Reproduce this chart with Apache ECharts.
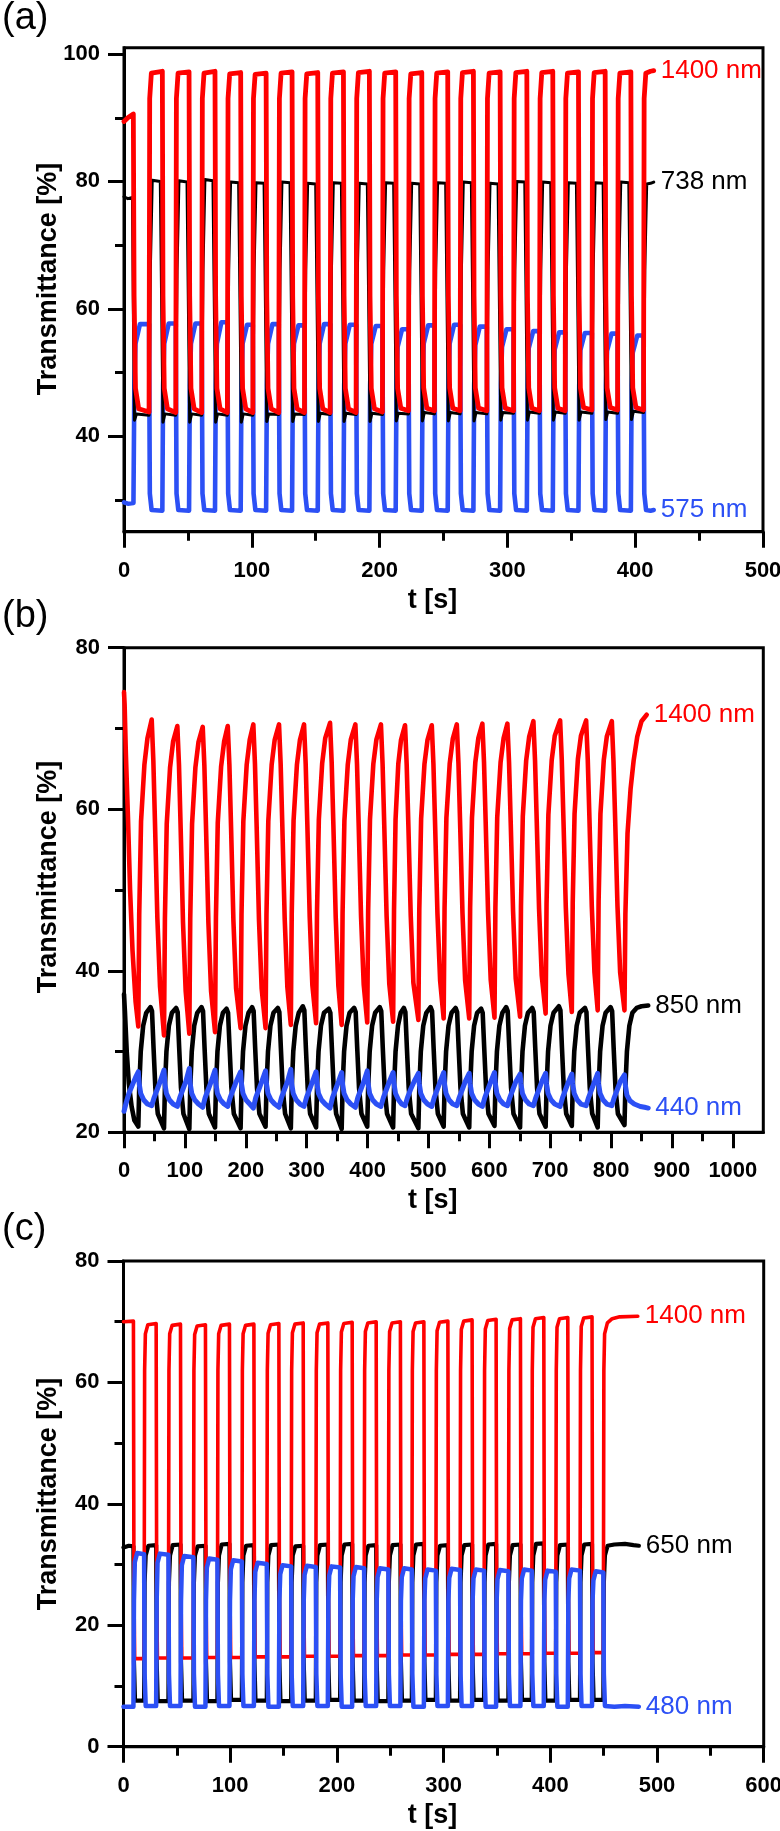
<!DOCTYPE html>
<html><head><meta charset="utf-8">
<script src="https://cdn.jsdelivr.net/npm/echarts@6/dist/echarts.min.js"></script>
<style>html,body{margin:0;padding:0;background:#fff}#c{width:780px;height:1831px}</style>
</head><body><div id="c"></div>
<script>
// ---------- tick labels ----------
const aXMajor = [0,100,200,300,400,500], aXMinor = [50,150,250,350,450];
const aYMajor = [40,60,80,100], aYMinor = [30,50,70,90];
const bXMajor = [0,100,200,300,400,500,600,700,800,900,1000], bXMinor = [50,150,250,350,450,550,650,750,850,950];
const bYMajor = [20,40,60,80], bYMinor = [30,50,70];
const cXMajor = [0,100,200,300,400,500,600], cXMinor = [50,150,250,350,450,550];
const cYMajor = [0,20,40,60,80], cYMinor = [10,30,50,70];
const panelTags = ['(a)','(b)','(c)'];
const aNames = ['1400 nm','738 nm','575 nm'];
const bNames = ['1400 nm','850 nm','440 nm'];
const cNames = ['1400 nm','650 nm','480 nm'];
const yTitle = 'Transmittance [%]', xTitle = 't [s]';

// ---------- panel (a) : [t (s), T (%)] ----------
const a1400 = [[0,89.4],[3,90.0],[7.3,90.6],[7.9,62],[9.0,47.5],[11.5,44.3],
[19.6,43.8],[20.1,93],[21.4,97.0],[30.0,97.3],[30.5,62],[31.5,47.5],[34.0,44.3],
[40.5,43.7],[41.0,93],[42.3,97.0],[50.9,97.2],[51.4,62],[52.4,47.5],[54.9,44.3],
[60.8,43.7],[61.3,93],[62.6,97.0],[71.2,97.3],[71.7,62],[72.7,47.5],[75.2,44.3],
[80.9,43.7],[81.4,93],[82.7,96.9],[91.3,97.1],[91.8,62],[92.8,47.5],[95.3,44.3],
[100.8,43.7],[101.3,93],[102.6,96.8],[111.2,97.0],[111.7,62],[112.7,47.5],[115.2,44.3],
[121.1,43.7],[121.6,93],[122.9,97.0],[131.5,97.2],[132.0,62],[133.0,47.5],[135.5,44.3],
[141.2,43.7],[141.7,93],[143.0,96.9],[151.6,97.1],[152.1,62],[153.1,47.5],[155.6,44.3],
[161.3,43.7],[161.8,93],[163.1,97.0],[171.7,97.2],[172.2,62],[173.2,47.5],[175.7,44.3],
[181.6,43.7],[182.1,93],[183.4,97.1],[192.0,97.3],[192.5,62],[193.5,47.5],[196.0,44.3],
[202.2,43.8],[202.7,93],[204.0,97.0],[212.6,97.2],[213.1,62],[214.1,47.5],[216.6,44.4],
[222.6,44.0],[223.1,93],[224.4,96.9],[233.0,97.1],[233.5,62],[234.5,47.6],[237.0,44.4],
[242.9,44.0],[243.4,93],[244.7,97.0],[253.3,97.2],[253.8,62],[254.8,47.6],[257.3,44.4],
[263.0,44.0],[263.5,93],[264.8,97.1],[273.4,97.3],[273.9,62],[274.9,47.6],[277.4,44.4],
[283.9,44.0],[284.4,93],[285.7,97.0],[294.3,97.2],[294.8,62],[295.8,47.6],[298.3,44.4],
[304.8,44.0],[305.3,93],[306.6,97.1],[315.2,97.3],[315.7,62],[316.7,47.6],[319.2,44.4],
[325.1,44.0],[325.6,93],[326.9,97.1],[335.5,97.3],[336.0,62],[337.0,47.6],[339.5,44.4],
[345.2,44.0],[345.7,93],[347.0,97.0],[355.6,97.2],[356.1,62],[357.1,47.6],[359.6,44.5],
[366.1,44.1],[366.6,93],[367.9,97.1],[376.5,97.3],[377.0,62],[378.0,47.6],[380.5,44.5],
[386.2,44.1],[386.7,93],[388.0,97.0],[396.6,97.2],[397.1,62],[398.1,47.6],[400.6,44.5],
[406.5,44.1],[407.0,93],[408.3,97.0],[412.0,97.3],[414.5,97.4]];

const a738 = [[0,77.6],[3,77.3],[6.6,77.5],[7.4,58],[8.2,42.5],[9.8,43.5],
[19.6,43.3],[20.6,66],[22.1,80.2],[28.4,80.0],[29.5,60],[30.5,42.2],[32.0,43.5],
[40.5,43.3],[41.5,66],[43.0,80.1],[49.3,79.9],[50.4,60],[51.4,42.2],[52.9,43.5],
[60.8,43.3],[61.8,66],[63.3,80.3],[69.6,80.1],[70.7,60],[71.7,42.2],[73.2,43.5],
[80.9,43.3],[81.9,66],[83.4,79.9],[89.7,79.8],[90.8,60],[91.8,42.2],[93.3,43.5],
[100.8,43.3],[101.8,66],[103.3,79.8],[109.6,79.7],[110.7,60],[111.7,42.3],[113.2,43.5],
[121.1,43.4],[122.1,66],[123.6,79.9],[129.9,79.8],[131.0,60],[132.0,42.3],[133.5,43.5],
[141.2,43.4],[142.2,66],[143.7,79.7],[150.0,79.6],[151.1,60],[152.1,42.3],[153.6,43.6],
[161.3,43.4],[162.3,66],[163.8,79.8],[170.1,79.7],[171.2,60],[172.2,42.3],[173.7,43.6],
[181.6,43.4],[182.6,66],[184.1,79.7],[190.4,79.6],[191.5,60],[192.5,42.3],[194.0,43.6],
[202.2,43.4],[203.2,66],[204.7,79.8],[211.0,79.7],[212.1,60],[213.1,42.4],[214.6,43.6],
[222.6,43.5],[223.6,66],[225.1,79.7],[231.4,79.6],[232.5,60],[233.5,42.4],[235.0,43.7],
[242.9,43.5],[243.9,66],[245.4,79.8],[251.7,79.7],[252.8,60],[253.8,42.4],[255.3,43.7],
[263.0,43.5],[264.0,66],[265.5,79.9],[271.8,79.8],[272.9,60],[273.9,42.4],[275.4,43.7],
[283.9,43.5],[284.9,66],[286.4,79.7],[292.7,79.6],[293.8,60],[294.8,42.5],[296.3,43.7],
[304.8,43.6],[305.8,66],[307.3,80.0],[313.6,79.9],[314.7,60],[315.7,42.5],[317.2,43.8],
[325.1,43.6],[326.1,66],[327.6,79.9],[333.9,79.8],[335.0,60],[336.0,42.5],[337.5,43.8],
[345.2,43.6],[346.2,66],[347.7,79.8],[354.0,79.7],[355.1,60],[356.1,42.5],[357.6,43.8],
[366.1,43.6],[367.1,66],[368.6,79.8],[374.9,79.7],[376.0,60],[377.0,42.6],[378.5,43.8],
[386.2,43.6],[387.2,66],[388.7,79.9],[395.0,79.8],[396.1,60],[397.1,42.6],[398.6,43.9],
[406.5,43.7],[407.5,66],[409.0,79.6],[412.0,79.7],[414.5,79.9]];

const a575 = [[0,29.6],[3,29.4],[7.4,29.5],
[8.1,48],[9.0,54.5],[12.5,57.6],[19.6,57.6],[20.2,31],[21.6,28.4],
[30.0,28.3],[30.6,48],[31.5,54.5],[35.0,57.7],[40.5,57.7],[41.1,31],[42.5,28.4],
[50.9,28.3],[51.5,48],[52.4,54.5],[55.9,57.7],[60.8,57.7],[61.4,31],[62.8,28.4],
[71.2,28.3],[71.8,48],[72.7,54.5],[76.2,57.9],[80.9,57.9],[81.5,31],[82.9,28.4],
[91.3,28.3],[91.9,48],[92.8,54.5],[96.3,57.5],[100.8,57.5],[101.4,31],[102.8,28.4],
[111.2,28.3],[111.8,48],[112.7,54.5],[116.2,57.6],[121.1,57.6],[121.7,31],[123.1,28.4],
[131.5,28.3],[132.1,48],[133.0,54.5],[136.5,57.4],[141.2,57.4],[141.8,31],[143.2,28.4],
[151.6,28.3],[152.2,48],[153.1,54.5],[156.6,57.6],[161.3,57.6],[161.9,31],[163.3,28.4],
[171.7,28.3],[172.3,48],[173.2,54.5],[176.7,57.5],[181.6,57.5],[182.2,31],[183.6,28.4],
[192.0,28.3],[192.6,48],[193.5,54.5],[197.0,57.3],[202.2,57.3],[202.8,31],[204.2,28.4],
[212.6,28.3],[213.2,48],[214.1,54],[217.6,56.8],[222.6,56.8],[223.2,31],[224.6,28.4],
[233.0,28.3],[233.6,48],[234.5,54.5],[238.0,57.4],[242.9,57.4],[243.5,31],[244.9,28.4],
[253.3,28.3],[253.9,48],[254.8,54.5],[258.3,57.5],[263.0,57.5],[263.6,31],[265.0,28.4],
[273.4,28.3],[274.0,48],[274.9,54.3],[278.4,57.2],[283.9,57.2],[284.5,31],[285.9,28.4],
[294.3,28.3],[294.9,48],[295.8,54],[299.3,56.8],[304.8,56.8],[305.4,31],[306.8,28.4],
[315.2,28.3],[315.8,48],[316.7,53.8],[320.2,56.5],[325.1,56.5],[325.7,31],[327.1,28.4],
[335.5,28.3],[336.1,48],[337.0,53.6],[340.5,56.3],[345.2,56.3],[345.8,31],[347.2,28.4],
[355.6,28.3],[356.2,48],[357.1,53.5],[360.6,56.2],[366.1,56.2],[366.7,31],[368.1,28.4],
[376.5,28.3],[377.1,48],[378.0,53.4],[381.5,56.1],[386.2,56.1],[386.8,31],[388.2,28.4],
[396.6,28.3],[397.2,48],[398.1,53.1],[401.6,55.8],[406.5,55.8],[407.1,31],[408.5,28.4],
[412.0,28.3],[414.5,28.4]];

// ---------- panel (b) ----------
const b1400 = [[0,74.5],[1,73],[3,67],[6.5,59],[10,50],[14,42.5],[19,36.2],[23.5,33.1],
[25.0,47],[28.0,58.5],[33.5,65.5],[38.5,68.8],[45.5,71.1],[48.2,66],[51.0,58],[54.8,46.5],[59.2,38],[65.7,32.0],
[67.2,46.5],[70.2,58.2],[75.7,65.2],[80.7,68.4],[87.6,70.3],[90.3,65.5],[93.1,57.5],[96.9,46],[101.3,37.5],[107.3,32.2],
[108.8,46.5],[111.8,58.2],[117.3,65.2],[122.3,68.3],[129.3,70.2],[132.0,65.4],[134.8,57.5],[138.6,46],[143.0,37.5],[149.5,32.4],
[151.0,46.7],[154.0,58.3],[159.5,65.3],[164.5,68.4],[170.4,70.3],[173.1,65.5],[175.9,57.6],[179.7,46.2],[184.1,37.8],[191.5,32.9],
[193.0,47],[196.0,58.5],[201.5,65.5],[206.5,68.6],[212.4,70.5],[215.1,65.6],[217.9,57.8],[221.7,46.3],[226.1,37.8],[232.5,32.9],
[234.0,47],[237.0,58.5],[242.5,65.5],[247.5,68.6],[254.6,70.5],[257.3,65.6],[260.1,57.8],[263.9,46.5],[268.3,38],[274.0,33.3],
[275.5,47.2],[278.5,58.6],[284.0,65.5],[289.0,68.6],[295.7,70.5],[298.4,65.6],[301.2,57.9],[305.0,46.7],[309.4,38.2],[315.5,33.5],
[317.0,47.3],[320.0,58.7],[325.5,65.7],[330.5,68.8],[338.4,70.7],[341.1,65.8],[343.9,58],[347.7,46.7],[352.1,38.1],[357.5,33.3],
[359.0,47.2],[362.0,58.6],[367.5,65.5],[372.5,68.6],[380.0,70.5],[382.7,65.6],[385.5,57.9],[389.3,46.8],[393.7,38.3],[399.5,33.6],
[401.0,47.4],[404.0,58.7],[409.5,65.6],[414.5,68.6],[422.0,70.5],[424.7,65.6],[427.5,57.9],[431.3,46.8],[435.7,38.4],[442.0,33.7],
[443.5,47.5],[446.0,58.7],[450.5,65.6],[455.0,68.6],[461.6,70.4],[464.3,65.5],[467.1,57.9],[470.9,46.9],[475.3,38.5],[483.5,33.9],
[485.0,47.6],[488.0,58.8],[493.5,65.6],[498.5,68.6],[505.5,70.4],[508.2,65.6],[511.0,58],[514.8,47.1],[519.2,38.8],[525.0,34.1],
[526.5,47.8],[529.5,58.9],[535.0,65.7],[540.0,68.7],[546.6,70.5],[549.3,65.7],[552.1,58.1],[555.9,47.2],[560.3,38.8],[567.0,34.1],
[568.5,47.8],[571.5,58.9],[577.0,65.8],[582.0,68.8],[588.6,70.6],[591.3,65.8],[594.1,58.2],[597.9,47.3],[602.3,38.9],[608.5,34.2],
[610.0,47.9],[613.0,59],[618.5,65.8],[623.5,68.8],[629.7,70.6],[632.4,65.8],[635.2,58.2],[639.0,47.4],[643.4,39],[650.5,34.3],
[652.0,48],[655.0,59.1],[660.5,66],[665.5,69],[672.4,70.9],[675.1,66],[677.9,58.5],[681.7,47.7],[686.1,39.4],[692.5,34.7],
[694.0,48.3],[697.0,59.3],[702.5,66.1],[707.5,69.1],[716.3,71.0],[719.0,66.1],[721.8,58.6],[725.6,47.9],[730.0,39.6],[735.5,34.9],
[737.0,48.5],[740.0,59.4],[745.5,66.2],[750.5,69.1],[759.0,71.0],[761.7,66.1],[764.5,58.7],[768.3,48],[772.7,39.8],[778.0,35.1],
[779.5,48.6],[782.5,59.4],[788.0,66.1],[793.0,69.0],[801.2,70.9],[803.9,66],[806.7,58.7],[810.5,48],[814.9,39.8],[822.0,35.1],
[823.5,47],[827,57],[832,62.5],[837,66],[843,69],[850,70.9],[858.5,71.7]];

const b850 = [[0,37.1],[1.5,35],[4.5,30],[8,26],[12.5,23.2],[17,21.5],[23.5,20.7],
[25.0,25.5],[27.5,30],[31.5,33.2],[36.5,34.8],[43.5,35.5],[46.0,35.0],[48.5,30.5],[51.5,25.5],[55.5,22.3],[65.7,20.5],
[67.2,25.5],[69.7,30],[73.7,33.2],[78.7,34.8],[85.6,35.4],[88.1,34.9],[90.6,30.5],[93.6,25.5],[97.6,22.3],[107.3,20.4],
[108.8,25.5],[111.3,30],[115.3,33.2],[120.3,34.8],[127.3,35.5],[129.8,35.0],[132.3,30.5],[135.3,25.5],[139.3,22.3],[149.5,20.6],
[151.0,25.5],[153.5,30],[157.5,33.2],[162.5,34.8],[168.4,35.3],[170.9,34.8],[173.4,30.5],[176.4,25.5],[180.4,22.3],[191.5,20.5],
[193.0,25.5],[195.5,30],[199.5,33.2],[204.5,34.8],[210.4,35.5],[212.9,35.0],[215.4,30.5],[218.4,25.5],[222.4,22.3],[232.5,20.7],
[234.0,25.5],[236.5,30],[240.5,33.2],[245.5,34.8],[252.6,35.4],[255.1,34.9],[257.6,30.5],[260.6,25.5],[264.6,22.3],[274.0,20.5],
[275.5,25.5],[278.0,30],[282.0,33.2],[287.0,34.8],[293.7,35.6],[296.2,35.1],[298.7,30.5],[301.7,25.5],[305.7,22.3],[315.5,20.6],
[317.0,25.5],[319.5,30],[323.5,33.2],[328.5,34.8],[336.4,35.3],[338.9,34.8],[341.4,30.5],[344.4,25.5],[348.4,22.3],[357.5,20.4],
[359.0,25.5],[361.5,30],[365.5,33.2],[370.5,34.8],[378.0,35.4],[380.5,34.9],[383.0,30.5],[386.0,25.5],[390.0,22.3],[399.5,20.7],
[401.0,25.5],[403.5,30],[407.5,33.2],[412.5,34.8],[420.0,35.5],[422.5,35.0],[425.0,30.5],[428.0,25.5],[432.0,22.3],[442.0,20.6],
[443.5,25.5],[446.0,30],[450.0,33.2],[454.5,34.8],[459.6,35.4],[462.1,34.9],[464.6,30.5],[467.6,25.5],[471.6,22.3],[483.5,20.5],
[485.0,25.5],[487.5,30],[491.5,33.2],[496.5,34.8],[503.5,35.5],[506.0,35.0],[508.5,30.5],[511.5,25.5],[515.5,22.3],[525.0,20.7],
[526.5,25.5],[529.0,30],[533.0,33.2],[538.0,34.8],[544.6,35.4],[547.1,34.9],[549.6,30.5],[552.6,25.5],[556.6,22.3],[567.0,20.6],
[568.5,25.5],[571.0,30],[575.0,33.2],[580.0,34.8],[586.6,35.3],[589.1,34.8],[591.6,30.5],[594.6,25.5],[598.6,22.3],[608.5,20.8],
[610.0,25.5],[612.5,30],[616.5,33.2],[621.5,34.8],[627.7,35.5],[630.2,35.0],[632.7,30.5],[635.7,25.5],[639.7,22.3],[650.5,20.6],
[652.0,25.5],[654.5,30],[658.5,33.2],[663.5,34.8],[670.4,35.4],[672.9,34.9],[675.4,30.5],[678.4,25.5],[682.4,22.3],[692.5,20.7],
[694.0,25.5],[696.5,30],[700.5,33.2],[705.5,34.8],[714.3,35.6],[716.8,35.1],[719.3,30.5],[722.3,25.5],[726.3,22.3],[735.5,20.8],
[737.0,25.5],[739.5,30],[743.5,33.2],[748.5,34.8],[757.0,35.4],[759.5,34.9],[762.0,30.5],[765.0,25.5],[769.0,22.3],[778.0,20.6],
[779.5,25.5],[782.0,30],[786.0,33.2],[791.0,34.8],[799.2,35.5],[801.7,35.0],[804.2,30.5],[807.2,25.5],[811.2,22.3],[822.0,20.9],
[823.5,25.5],[826,30],[830,33.2],[835,34.8],[842,35.4],[850,35.6],[861,35.7]];

const b440 = [[0,22.6],[3,23.5],[8,24.8],[14,25.9],[19,26.8],[23.5,27.5],
[25.0,26.0],[27.5,24.8],[32.5,24.0],[38.5,23.5],[45.5,23.3],[49.5,24.3],[54.5,25.3],[59.5,26.3],[65.7,27.7],
[67.2,26.0],[69.7,24.8],[74.7,24.0],[80.7,23.5],[87.6,23.2],[91.6,24.3],[96.6,25.3],[101.6,26.3],[107.3,27.9],
[108.8,26.0],[111.3,24.8],[116.3,24.0],[122.3,23.5],[129.3,23.1],[133.3,24.3],[138.3,25.3],[143.3,26.3],[149.5,27.7],
[151.0,26.0],[153.5,24.8],[158.5,24.0],[164.5,23.5],[170.4,23.2],[174.4,24.3],[179.4,25.3],[184.4,26.3],[191.5,27.5],
[193.0,26.0],[195.5,24.8],[200.5,24.0],[206.5,23.5],[212.4,23.0],[216.4,24.3],[221.4,25.3],[226.4,26.3],[232.5,27.6],
[234.0,26.0],[236.5,24.8],[241.5,24.0],[247.5,23.5],[254.6,23.1],[258.6,24.3],[263.6,25.3],[268.6,26.3],[274.0,27.8],
[275.5,26.0],[278.0,24.8],[283.0,24.0],[289.0,23.5],[295.7,23.2],[299.7,24.3],[304.7,25.3],[309.7,26.3],[315.5,27.5],
[317.0,26.0],[319.5,24.8],[324.5,24.0],[330.5,23.5],[338.4,23.0],[342.4,24.3],[347.4,25.3],[352.4,26.3],[357.5,27.4],
[359.0,26.0],[361.5,24.8],[366.5,24.0],[372.5,23.5],[380.0,23.1],[384.0,24.3],[389.0,25.3],[394.0,26.3],[399.5,27.6],
[401.0,26.0],[403.5,24.8],[408.5,24.0],[414.5,23.5],[422.0,23.2],[426.0,24.3],[431.0,25.3],[436.0,26.3],[442.0,27.4],
[443.5,26.0],[446.0,24.8],[451.0,24.0],[456.0,23.5],[461.6,23.3],[465.6,24.3],[470.6,25.3],[476.6,26.3],[483.5,27.3],
[485.0,26.0],[487.5,24.8],[492.5,24.0],[498.5,23.5],[505.5,23.2],[509.5,24.3],[514.5,25.3],[519.5,26.3],[525.0,27.4],
[526.5,26.0],[529.0,24.8],[534.0,24.0],[540.0,23.5],[546.6,23.3],[550.6,24.3],[555.6,25.3],[560.6,26.3],[567.0,27.3],
[568.5,26.0],[571.0,24.8],[576.0,24.0],[582.0,23.5],[588.6,23.2],[592.6,24.3],[597.6,25.3],[602.6,26.3],[608.5,27.4],
[610.0,26.0],[612.5,24.8],[617.5,24.0],[623.5,23.5],[629.7,23.3],[633.7,24.3],[638.7,25.3],[643.7,26.3],[650.5,27.2],
[652.0,26.0],[654.5,24.8],[659.5,24.0],[665.5,23.5],[672.4,23.3],[676.4,24.3],[681.4,25.3],[686.4,26.3],[692.5,27.3],
[694.0,26.0],[696.5,24.8],[701.5,24.0],[707.5,23.5],[716.3,23.2],[720.3,24.3],[725.3,25.3],[730.3,26.3],[735.5,27.2],
[737.0,26.0],[739.5,24.8],[744.5,24.0],[750.5,23.5],[759.0,23.3],[763.0,24.3],[768.0,25.3],[773.0,26.3],[778.0,27.3],
[779.5,26.0],[782.0,24.8],[787.0,24.0],[793.0,23.5],[801.2,23.3],[805.2,24.3],[810.2,25.3],[815.2,26.3],[822.0,27.1],
[823.5,25.8],[826,24.6],[831,23.9],[838,23.5],[848,23.2],[855,23.1],[861,23.0]];

// ---------- panel (c) ----------
const c1400 = [[0,70.0],[9.3,70.1],[9.8,25],[10.5,14.5],
[19.3,14.5],[19.8,62],[20.5,68.0],[22.8,69.5],[30.6,69.7],[31.1,25],[31.8,14.6],
[42.1,14.6],[42.6,62],[43.3,68.0],[45.6,69.4],[53.4,69.6],[53.9,25],[54.6,14.6],
[65.5,14.6],[66.0,62],[66.7,67.9],[69.0,69.3],[76.8,69.5],[77.3,25],[78.0,14.7],
[88.0,14.7],[88.5,62],[89.2,68.0],[91.5,69.4],[99.3,69.6],[99.8,25],[100.5,14.7],
[110.9,14.7],[111.4,62],[112.1,68.0],[114.4,69.4],[122.2,69.6],[122.7,25],[123.4,14.8],
[134.3,14.8],[134.8,62],[135.5,68.1],[137.8,69.5],[145.6,69.7],[146.1,25],[146.8,14.8],
[157.1,14.8],[157.6,62],[158.3,68.2],[160.6,69.6],[168.4,69.8],[168.9,25],[169.6,14.9],
[180.2,14.9],[180.7,62],[181.4,68.2],[183.7,69.6],[191.5,69.8],[192.0,25],[192.7,14.9],
[203.0,14.9],[203.5,62],[204.2,68.3],[206.5,69.7],[214.3,69.9],[214.8,25],[215.5,15.0],
[225.5,15.0],[226.0,62],[226.7,68.4],[229.0,69.8],[236.8,70.0],[237.3,25],[238.0,15.0],
[248.2,15.0],[248.7,62],[249.4,68.4],[251.7,69.8],[259.5,70.0],[260.0,25],[260.7,15.1],
[270.2,15.1],[270.7,62],[271.4,68.4],[273.7,69.8],[281.5,70.0],[282.0,25],[282.7,15.1],
[292.7,15.1],[293.2,62],[293.9,68.5],[296.2,69.9],[304.0,70.1],[304.5,25],[305.2,15.2],
[315.4,15.2],[315.9,62],[316.6,68.7],[318.9,70.1],[326.7,70.3],[327.2,25],[327.9,15.2],
[337.9,15.2],[338.4,62],[339.1,68.8],[341.4,70.2],[349.2,70.4],[349.7,25],[350.4,15.3],
[360.7,15.3],[361.2,62],[361.9,68.9],[364.2,70.3],[372.0,70.5],[372.5,25],[373.2,15.3],
[382.6,15.3],[383.1,62],[383.8,69.1],[386.1,70.5],[393.9,70.7],[394.4,25],[395.1,15.4],
[405.1,15.4],[405.6,62],[406.3,69.1],[408.6,70.5],[416.4,70.7],[416.9,25],[417.6,15.4],
[427.8,15.4],[428.3,62],[429.0,69.2],[431.3,70.6],[439.1,70.8],[439.6,25],[440.3,15.5],
[449.7,15.5],[450.2,62],[450.9,68.0],[453.5,69.8],[458,70.5],[465,70.8],[482,70.9]];

const c650 = [[0,32.8],[5,33.1],[9.3,33.0],[9.8,14],[10.8,7.6],
[19.3,7.6],[19.8,27],[20.8,31.5],[23.3,33.1],[30.6,33.2],[31.1,14],[32.1,7.5],
[42.1,7.5],[42.6,27],[43.6,31.5],[46.1,33.2],[53.4,33.3],[53.9,14],[54.9,7.6],
[65.5,7.6],[66.0,27],[67.0,31.5],[69.5,33.0],[76.8,33.1],[77.3,14],[78.3,7.5],
[88.0,7.5],[88.5,27],[89.5,31.5],[92.0,33.3],[99.3,33.4],[99.8,14],[100.8,7.7],
[110.9,7.7],[111.4,27],[112.4,31.5],[114.9,33.1],[122.2,33.2],[122.7,14],[123.7,7.6],
[134.3,7.6],[134.8,27],[135.8,31.5],[138.3,33.2],[145.6,33.3],[146.1,14],[147.1,7.5],
[157.1,7.5],[157.6,27],[158.6,31.5],[161.1,33.0],[168.4,33.1],[168.9,14],[169.9,7.6],
[180.2,7.6],[180.7,27],[181.7,31.5],[184.2,33.2],[191.5,33.3],[192.0,14],[193.0,7.7],
[203.0,7.7],[203.5,27],[204.5,31.5],[207.0,33.3],[214.3,33.4],[214.8,14],[215.8,7.6],
[225.5,7.6],[226.0,27],[227.0,31.5],[229.5,33.1],[236.8,33.2],[237.3,14],[238.3,7.5],
[248.2,7.5],[248.7,27],[249.7,31.5],[252.2,33.2],[259.5,33.3],[260.0,14],[261.0,7.6],
[270.2,7.6],[270.7,27],[271.7,31.5],[274.2,33.3],[281.5,33.4],[282.0,14],[283.0,7.7],
[292.7,7.7],[293.2,27],[294.2,31.5],[296.7,33.1],[304.0,33.2],[304.5,14],[305.5,7.6],
[315.4,7.6],[315.9,27],[316.9,31.5],[319.4,33.2],[326.7,33.3],[327.2,14],[328.2,7.7],
[337.9,7.7],[338.4,27],[339.4,31.5],[341.9,33.3],[349.2,33.4],[349.7,14],[350.7,7.6],
[360.7,7.6],[361.2,27],[362.2,31.5],[364.7,33.2],[372.0,33.3],[372.5,14],[373.5,7.7],
[382.6,7.7],[383.1,27],[384.1,31.5],[386.6,33.4],[393.9,33.5],[394.4,14],[395.4,7.6],
[405.1,7.6],[405.6,27],[406.6,31.5],[409.1,33.2],[416.4,33.3],[416.9,14],[417.9,7.7],
[427.8,7.7],[428.3,27],[429.3,31.5],[431.8,33.3],[439.1,33.4],[439.6,14],[440.6,7.7],
[449.7,7.7],[450.2,27],[451.2,31.5],[453.7,33.1],[460,33.3],[470,33.4],[478,33.2],[483,33.1]];

const c480 = [[0,6.6],
[9.3,6.6],[9.8,24],[10.6,30.4],[12.8,31.9],[19.3,31.7],[19.8,12],[20.8,6.7],
[30.6,6.7],[31.1,24],[31.9,30.3],[34.1,31.8],[42.1,31.6],[42.6,12],[43.6,6.7],
[53.4,6.7],[53.9,24],[54.7,29.9],[56.9,31.4],[65.5,31.2],[66.0,12],[67.0,6.6],
[76.8,6.6],[77.3,24],[78.1,29.5],[80.3,31.0],[88.0,30.8],[88.5,12],[89.5,6.7],
[99.3,6.7],[99.8,24],[100.6,29.2],[102.8,30.7],[110.9,30.5],[111.4,12],[112.4,6.7],
[122.2,6.7],[122.7,24],[123.5,28.8],[125.7,30.3],[134.3,30.1],[134.8,12],[135.8,6.6],
[145.6,6.6],[146.1,24],[146.9,28.4],[149.1,29.9],[157.1,29.7],[157.6,12],[158.6,6.7],
[168.4,6.7],[168.9,24],[169.7,28.3],[171.9,29.8],[180.2,29.6],[180.7,12],[181.7,6.7],
[191.5,6.7],[192.0,24],[192.8,28.2],[195.0,29.7],[203.0,29.5],[203.5,12],[204.5,6.6],
[214.3,6.6],[214.8,24],[215.6,28.1],[217.8,29.6],[225.5,29.4],[226.0,12],[227.0,6.7],
[236.8,6.7],[237.3,24],[238.1,27.9],[240.3,29.4],[248.2,29.2],[248.7,12],[249.7,6.7],
[259.5,6.7],[260.0,24],[260.8,27.9],[263.0,29.4],[270.2,29.2],[270.7,12],[271.7,6.6],
[281.5,6.6],[282.0,24],[282.8,27.7],[285.0,29.2],[292.7,29.0],[293.2,12],[294.2,6.7],
[304.0,6.7],[304.5,24],[305.3,27.8],[307.5,29.3],[315.4,29.1],[315.9,12],[316.9,6.7],
[326.7,6.7],[327.2,24],[328.0,27.7],[330.2,29.2],[337.9,29.0],[338.4,12],[339.4,6.6],
[349.2,6.6],[349.7,24],[350.5,27.6],[352.7,29.1],[360.7,28.9],[361.2,12],[362.2,6.7],
[372.0,6.7],[372.5,24],[373.3,27.7],[375.5,29.2],[382.6,29.0],[383.1,12],[384.1,6.7],
[393.9,6.7],[394.4,24],[395.2,27.5],[397.4,29.0],[405.1,28.8],[405.6,12],[406.6,6.6],
[416.4,6.6],[416.9,24],[417.7,27.7],[419.9,29.2],[427.8,29.0],[428.3,12],[429.3,6.7],
[439.1,6.7],[439.6,24],[440.4,27.4],[442.6,28.9],[449.7,28.7],[450.2,12],[451.2,6.7],
[460,6.6],[470,6.7],[483,6.6]];

// ---------- styling / layout ----------
const FONT = "'Liberation Sans', Arial, Helvetica, sans-serif";
const RED = '#ff0000', BLACK = '#000000', BLUE = '#2c50f5';
const grids = [
  {left:124, top:47.7, width:639, height:484},
  {left:124, top:647.7, width:639.3, height:484.6},
  {left:123.5, top:1261, width:640.2, height:485.7}
];
const ranges = [
  {x:[0,500],  y:[25,101], xM:aXMajor, xm:aXMinor, yM:aYMajor, ym:aYMinor},
  {x:[0,1050], y:[20,80],  xM:bXMajor, xm:bXMinor, yM:bYMajor, ym:bYMinor},
  {x:[0,600],  y:[0,80],   xM:cXMajor, xm:cXMinor, yM:cYMajor, ym:cYMinor}
];
const tagTops = [0, 598, 1211];
const yTitlePos = [[49, 279], [49, 877], [49, 1494]];

const tickLbl = {color:'#000', fontSize:22, fontWeight:'bold', fontFamily:FONT};
const nameTxt = {color:'#000', fontSize:27, fontWeight:'bold', fontFamily:FONT};
const plain = v => String(v);

const xAxis = [], yAxis = [];
ranges.forEach((r, gi) => {
  xAxis.push({type:'value', gridIndex:gi, position:'bottom', min:r.x[0], max:r.x[1],
    axisLine:{show:true, onZero:false, lineStyle:{color:'#000', width:3}},
    axisTick:{show:true, inside:false, length:16, lineStyle:{color:'#000', width:3}, customValues:r.xM},
    axisLabel:Object.assign({show:true, margin:28, customValues:r.xM, formatter:plain}, tickLbl),
    splitLine:{show:false}, minorTick:{show:false},
    name:xTitle, nameLocation:'middle', nameGap:55,
    nameTextStyle:Object.assign({padding:[0,22,0,0]}, nameTxt)});
  xAxis.push({type:'value', gridIndex:gi, position:'bottom', min:r.x[0], max:r.x[1],
    axisLine:{show:false, onZero:false},
    axisTick:{show:true, inside:false, length:9, lineStyle:{color:'#000', width:3}, customValues:r.xm},
    axisLabel:{show:false}, splitLine:{show:false}});
  yAxis.push({type:'value', gridIndex:gi, position:'left', min:r.y[0], max:r.y[1],
    axisLine:{show:true, onZero:false, lineStyle:{color:'#000', width:3}},
    axisTick:{show:true, inside:false, length:16, lineStyle:{color:'#000', width:3}, customValues:r.yM},
    axisLabel:Object.assign({show:true, margin:24, customValues:r.yM, formatter:plain}, tickLbl),
    splitLine:{show:false}, minorTick:{show:false}});
  yAxis.push({type:'value', gridIndex:gi, position:'left', min:r.y[0], max:r.y[1],
    axisLine:{show:false, onZero:false},
    axisTick:{show:true, inside:false, length:9, lineStyle:{color:'#000', width:3}, customValues:r.ym},
    axisLabel:{show:false}, splitLine:{show:false}});
});

function line(data, gi, color, width, z, label) {
  return {type:'line', data:data, xAxisIndex:2*gi, yAxisIndex:2*gi,
    showSymbol:false, symbol:'none', smooth:false, z:z, animation:false,
    emphasis:{disabled:true},
    lineStyle:{color:color, width:width, cap:'round', join:'round'},
    itemStyle:{color:color},
    endLabel:{show:true, formatter:label, color:color, fontSize:26, fontFamily:FONT, distance:7}};
}

const series = [
  line(a575, 0, BLUE, 4.6, 2, aNames[2]),
  line(a738, 0, BLACK, 3, 3, aNames[1]),
  line(a1400, 0, RED, 4.8, 4, aNames[0]),
  line(b850, 1, BLACK, 4.6, 2, bNames[1]),
  line(b440, 1, BLUE, 5, 3, bNames[2]),
  line(b1400, 1, RED, 4.6, 4, bNames[0]),
  line(c650, 2, BLACK, 4.2, 2, cNames[1]),
  line(c1400, 2, RED, 3.6, 3, cNames[0]),
  line(c480, 2, BLUE, 4.5, 4, cNames[2])
];

const chart = echarts.init(document.getElementById('c'), null, {renderer:'canvas'});
chart.setOption({
  backgroundColor:'#ffffff',
  animation:false,
  title: panelTags.map((t, i) => ({text:t, left:2, top:tagTops[i], padding:0,
    textStyle:{fontSize:38, fontWeight:'normal', fontFamily:FONT, color:'#000'}})),
  grid: grids.map(g => Object.assign({show:true, borderColor:'#000', borderWidth:3,
    backgroundColor:'transparent', containLabel:false, outerBoundsMode:'none'}, g)),
  graphic: yTitlePos.map(p => ({type:'text', x:p[0], y:p[1], rotation:Math.PI/2, silent:true,
    style:{text:yTitle, fill:'#000', fontSize:27, fontWeight:'bold', fontFamily:FONT,
      align:'center', verticalAlign:'middle', textAlign:'center', textVerticalAlign:'middle'}})),
  xAxis: xAxis,
  yAxis: yAxis,
  series: series
});
</script></body></html>
